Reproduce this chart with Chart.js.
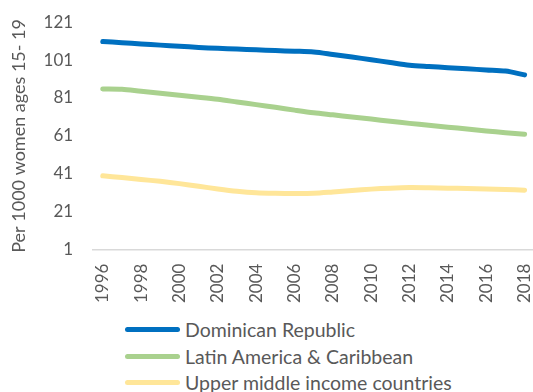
<!DOCTYPE html>
<html>
<head>
<meta charset="utf-8">
<script src="https://cdn.jsdelivr.net/npm/chart.js@4/dist/chart.umd.min.js"></script>
<style>
  html, body { margin: 0; padding: 0; background: #fff; }
  body { width: 533px; height: 392px; overflow: hidden; font-family: Lato, "Open Sans", sans-serif; }
  #clip { position: relative; width: 533px; height: 309px; overflow: hidden; }
  #wrap { position: relative; width: 551px; height: 309px; }
  #legend { position: absolute; left: 125px; top: 316px; margin: 0; padding: 0; list-style: none; }
  #legend li { display: flex; align-items: center; height: 26.8px; font-size: 19.5px; color: #595959; }
  #legend .swatch { display: inline-block; width: 55px; height: 5px; border-radius: 3px; margin-right: 5px; }
</style>
</head>
<body>
<div id="clip"><div id="wrap"><canvas id="birthChart"></canvas></div></div>
<ul id="legend"></ul>
<script>
const years = ['1996', '1997', '1998', '1999', '2000', '2001', '2002', '2003', '2004', '2005', '2006', '2007',
               '2008', '2009', '2010', '2011', '2012', '2013', '2014', '2015', '2016', '2017', '2018'];

const dominicanRepublic = [110.8, 110.2, 109.5, 108.9, 108.3, 107.7, 107.2, 106.8, 106.4, 106.0, 105.7, 105.3,
                           104.0, 102.6, 101.2, 99.7, 98.3, 97.6, 97.0, 96.4, 95.8, 95.2, 93.2];
const latinAmerica = [85.8, 85.6, 84.5, 83.5, 82.4, 81.4, 80.3, 78.9, 77.5, 76.1, 74.6, 73.2,
                      72.1, 71.0, 69.9, 68.7, 67.6, 66.6, 65.6, 64.6, 63.6, 62.7, 61.8];
const upperMiddle = [39.9, 39.0, 38.0, 37.0, 35.8, 34.4, 33.0, 31.8, 31.0, 30.7, 30.6, 30.7,
                     31.4, 32.2, 32.9, 33.4, 33.7, 33.6, 33.4, 33.2, 33.0, 32.7, 32.3];

const yMin = 1;
const yMax = 121;
const yStep = 20;
const yTitle = 'Per 1000 women ages 15- 19';

const textColor = '#595959';

function lineSet(label, data, color) {
    return {
        label: label,
        data: data,
        borderColor: color,
        backgroundColor: color,
        borderWidth: 5,
        borderCapStyle: 'round',
        borderJoinStyle: 'round',
        pointRadius: 0,
        tension: 0.3,
        fill: false,
    };
}

const ctx = document.getElementById('birthChart').getContext('2d');
const chart = new Chart(ctx, {
    type: 'line',
    data: {
        labels: years,
        datasets: [
            lineSet('Dominican Republic', dominicanRepublic, '#0070c0'),
            lineSet('Latin America & Caribbean', latinAmerica, '#a9d18e'),
            lineSet('Upper middle income countries', upperMiddle, '#ffe699'),
        ],
    },
    options: {
        responsive: true,
        maintainAspectRatio: false,
        animation: false,
        layout: { padding: { top: 14, right: 0, left: 8, bottom: 0 } },
        plugins: {
            legend: { display: false },
            tooltip: { enabled: false },
        },
        scales: {
            x: {
                offset: true,
                grid: { display: false },
                border: { display: true, color: '#d9d9d9', width: 1.5 },
                ticks: {
                    autoSkip: false,
                    minRotation: 90,
                    maxRotation: 90,
                    padding: 6,
                    color: textColor,
                    font: { family: 'Lato', size: 17 },
                    callback: function (val, i) {
                        return i % 2 === 0 ? this.getLabelForValue(val) : '';
                    },
                },
            },
            y: {
                min: yMin,
                max: yMax,
                grid: { display: false },
                border: { display: false },
                ticks: {
                    stepSize: yStep,
                    padding: 12,
                    color: textColor,
                    font: { family: 'Lato', size: 17 },
                },
                title: {
                    display: true,
                    text: yTitle,
                    color: textColor,
                    font: { family: 'Lato', size: 18 },
                    padding: { top: 0, bottom: 2 },
                },
            },
        },
    },
});

// legend list built from the chart's datasets
const legendEl = document.getElementById('legend');
chart.data.datasets.forEach((ds) => {
    const li = document.createElement('li');
    const swatch = document.createElement('span');
    swatch.className = 'swatch';
    swatch.style.background = ds.borderColor;
    li.appendChild(swatch);
    li.appendChild(document.createTextNode(ds.label));
    legendEl.appendChild(li);
});
</script>
</body>
</html>
